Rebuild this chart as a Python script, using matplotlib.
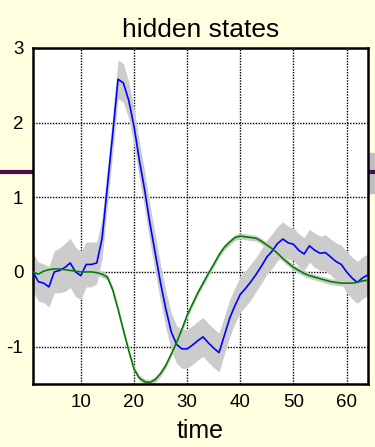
import matplotlib
matplotlib.use('Agg')
import numpy as np
import matplotlib.pyplot as plt
from matplotlib.lines import Line2D
from matplotlib.patches import Rectangle

# time axis
t = list(range(1, 65))

# estimated hidden state (blue) and its uncertainty half-width (grey band)
est = [0.0, -0.13, -0.15, -0.2, 0.0, 0.02, 0.06, 0.12, 0.0, -0.05,
       0.1, 0.1, 0.12, 0.45, 1.15, 1.85, 2.58, 2.53, 2.3, 1.95,
       1.5, 1.1, 0.65, 0.25, -0.15, -0.5, -0.8, -0.97, -1.03, -1.03,
       -0.98, -0.92, -0.87, -0.95, -1.02, -1.08, -0.85, -0.62, -0.45, -0.3,
       -0.22, -0.13, -0.03, 0.08, 0.2, 0.28, 0.38, 0.44, 0.39, 0.37,
       0.29, 0.24, 0.35, 0.29, 0.25, 0.26, 0.2, 0.14, 0.1, 0.0,
       -0.08, -0.14, -0.08, -0.04]
est_ci = [0.26, 0.26, 0.26, 0.27, 0.28, 0.3, 0.32, 0.33, 0.33, 0.32,
          0.3, 0.3, 0.28, 0.27, 0.26, 0.26, 0.26, 0.26, 0.25, 0.25,
          0.25, 0.25, 0.25, 0.25, 0.25, 0.25, 0.25, 0.25, 0.26, 0.26,
          0.26, 0.26, 0.26, 0.26, 0.26, 0.26, 0.25, 0.25, 0.24, 0.24,
          0.24, 0.24, 0.23, 0.23, 0.23, 0.23, 0.23, 0.23, 0.22, 0.22,
          0.22, 0.22, 0.22, 0.23, 0.23, 0.24, 0.24, 0.25, 0.26, 0.27,
          0.28, 0.28, 0.28, 0.28]

# true hidden state (green)
true = [0.0, -0.03, 0.01, 0.03, 0.04, 0.04, 0.03, 0.02, 0.01, 0.0,
        0.0, 0.0, -0.01, -0.03, -0.07, -0.24, -0.5, -0.78, -1.05, -1.3,
        -1.42, -1.47, -1.48, -1.44, -1.36, -1.25, -1.1, -0.95, -0.77, -0.58,
        -0.43, -0.28, -0.15, -0.02, 0.1, 0.23, 0.33, 0.4, 0.46, 0.48,
        0.47, 0.46, 0.45, 0.41, 0.36, 0.31, 0.25, 0.18, 0.12, 0.06,
        0.02, -0.02, -0.05, -0.07, -0.09, -0.11, -0.13, -0.14, -0.15, -0.15,
        -0.15, -0.14, -0.12, -0.11]
true_ci = 0.04

xticks = [10, 20, 30, 40, 50, 60]
yticks = [-1, 0, 1, 2, 3]

plt.rcParams.update({'font.family': 'Liberation Sans'})
plt.rcParams.update({'axes.unicode_minus': False})

bg = '#FFFFE0'
fig = plt.figure(figsize=(3.75, 4.47), dpi=100, facecolor=bg)

# slide decoration behind the axes
fig.add_artist(Rectangle((369 / 375, (447 - 193) / 447), 6 / 375, 40 / 447,
                         transform=fig.transFigure, color='#C0C0C0', zorder=0))
fig.add_artist(Line2D([0, 1], [0.615, 0.615], transform=fig.transFigure,
                      color='#4B0B4B', linewidth=3, zorder=0.5))

ax = fig.add_axes([0.088, 0.141, 0.893, 0.752])
ax.set_zorder(2)
ax.set_facecolor('white')

est_a = np.array(est)
ci_a = np.array(est_ci)
true_a = np.array(true)
ax.fill_between(t, est_a - ci_a, est_a + ci_a, color='#CCCCCC', linewidth=0, zorder=1)
ax.fill_between(t, true_a - true_ci, true_a + true_ci, color='#CCCCCC', linewidth=0, zorder=1)
ax.plot(t, est, color='#0000FF', linewidth=1.2, zorder=3)
ax.plot(t, true, color='#008000', linewidth=1.2, zorder=3)

ax.set_xlim(1, 64)
ax.set_ylim(-1.5, 3)
ax.set_xticks(xticks)
ax.set_yticks(yticks)
ax.grid(True, color='black', linestyle=(0, (1, 1)), linewidth=1.0, zorder=0)
ax.set_axisbelow(True)
ax.tick_params(direction='in', length=0, labelsize=13.5, pad=7)
for s in ax.spines.values():
    s.set_linewidth(1.8)

ax.set_title('hidden states', fontsize=19, pad=8)
ax.set_xlabel('time', fontsize=18, labelpad=6)

fig.savefig('out.png', dpi=100, facecolor=bg)
